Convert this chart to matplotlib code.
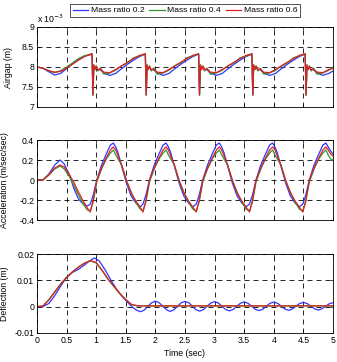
import matplotlib
matplotlib.use("Agg")
import matplotlib.pyplot as plt

plt.rcParams['font.family'] = ['Liberation Sans', 'DejaVu Sans']
plt.rcParams['font.size'] = 6.3

series_labels = ["Mass ratio 0.2", "Mass ratio 0.4", "Mass ratio 0.6"]
series_colors = ["#3333ff", "#2e9a2e", "#e02020"]

# ---------------- Airgap (units of 1e-3 m) ----------------
t_air = [0.00, 0.10, 0.20, 0.30, 0.40, 0.50, 0.60, 0.70, 0.80,
         0.93, 0.945, 0.96, 0.98, 1.00, 1.03, 1.07, 1.13, 1.23, 1.33, 1.43, 1.53, 1.63, 1.73,
         1.83, 1.845, 1.86, 1.88, 1.90, 1.93, 1.97, 2.03, 2.13, 2.23, 2.33, 2.43, 2.53, 2.63,
         2.73, 2.745, 2.76, 2.78, 2.80, 2.83, 2.87, 2.93, 3.03, 3.13, 3.23, 3.33, 3.43, 3.53,
         3.63, 3.645, 3.66, 3.68, 3.70, 3.73, 3.77, 3.83, 3.93, 4.03, 4.13, 4.23, 4.33, 4.43,
         4.53, 4.545, 4.56, 4.58, 4.60, 4.63, 4.67, 4.73, 4.83, 4.93, 5.00]

air_02 = [8.00, 7.97, 7.88, 7.80, 7.84, 7.96, 8.08, 8.18, 8.27,
          8.32, 7.30, 8.02, 7.97, 7.99, 7.94, 7.93, 7.85, 7.79, 7.84, 7.96, 8.07, 8.17, 8.26,
          8.32, 7.30, 8.02, 7.97, 7.99, 7.94, 7.93, 7.85, 7.79, 7.84, 7.96, 8.07, 8.17, 8.26,
          8.32, 7.30, 8.02, 7.97, 7.99, 7.94, 7.93, 7.85, 7.79, 7.84, 7.96, 8.07, 8.17, 8.26,
          8.32, 7.30, 8.02, 7.97, 7.99, 7.94, 7.93, 7.85, 7.79, 7.84, 7.96, 8.07, 8.17, 8.26,
          8.32, 7.30, 8.02, 7.97, 7.99, 7.94, 7.93, 7.85, 7.79, 7.84, 7.90]

air_04 = [8.00, 7.97, 7.90, 7.86, 7.91, 8.00, 8.10, 8.21, 8.28,
          8.33, 7.30, 8.06, 7.93, 8.03, 7.90, 7.97, 7.82, 7.85, 7.92, 8.03, 8.10, 8.23, 8.27,
          8.33, 7.30, 8.06, 7.93, 8.03, 7.90, 7.97, 7.82, 7.85, 7.92, 8.03, 8.10, 8.23, 8.27,
          8.33, 7.30, 8.06, 7.93, 8.03, 7.90, 7.97, 7.82, 7.85, 7.92, 8.03, 8.10, 8.23, 8.27,
          8.33, 7.30, 8.06, 7.93, 8.03, 7.90, 7.97, 7.82, 7.85, 7.92, 8.03, 8.10, 8.23, 8.27,
          8.33, 7.30, 8.06, 7.93, 8.03, 7.90, 7.97, 7.82, 7.85, 7.92, 8.00]

air_06 = [8.00, 7.97, 7.91, 7.87, 7.89, 7.97, 8.07, 8.17, 8.26,
          8.33, 7.30, 8.05, 7.94, 8.02, 7.92, 7.96, 7.87, 7.86, 7.94, 8.03, 8.12, 8.21, 8.29,
          8.33, 7.30, 8.05, 7.94, 8.02, 7.92, 7.96, 7.87, 7.86, 7.94, 8.03, 8.12, 8.21, 8.29,
          8.33, 7.30, 8.05, 7.94, 8.02, 7.92, 7.96, 7.87, 7.86, 7.94, 8.03, 8.12, 8.21, 8.29,
          8.33, 7.30, 8.05, 7.94, 8.02, 7.92, 7.96, 7.87, 7.86, 7.94, 8.03, 8.12, 8.21, 8.29,
          8.33, 7.30, 8.05, 7.94, 8.02, 7.92, 7.96, 7.87, 7.86, 7.94, 7.96]

# ---------------- Acceleration (m/sec/sec) ----------------
t_acc = [0.00, 0.10, 0.20, 0.30, 0.39, 0.46, 0.55, 0.62, 0.70, 0.78, 0.85,
         0.90, 0.95, 1.01, 1.09, 1.17, 1.24, 1.29, 1.33, 1.37, 1.43, 1.51, 1.59, 1.67, 1.74,
         1.79, 1.84, 1.90, 1.98, 2.06, 2.13, 2.18, 2.22, 2.26, 2.32, 2.40, 2.48, 2.56, 2.63,
         2.69, 2.74, 2.80, 2.88, 2.96, 3.03, 3.08, 3.12, 3.16, 3.22, 3.30, 3.38, 3.46, 3.53,
         3.59, 3.64, 3.70, 3.78, 3.86, 3.93, 3.98, 4.02, 4.06, 4.12, 4.20, 4.28, 4.36, 4.43,
         4.49, 4.54, 4.60, 4.68, 4.76, 4.83, 4.88, 4.92, 4.96, 5.00]

acc_02 = [0.00, 0.00, 0.06, 0.15, 0.20, 0.16, 0.05, -0.08, -0.19, -0.24, -0.26,
          -0.24, -0.15, 0.00, 0.15, 0.26, 0.35, 0.37, 0.33, 0.27, 0.14, -0.03, -0.16, -0.23, -0.27,
          -0.24, -0.15, 0.00, 0.15, 0.26, 0.35, 0.37, 0.33, 0.27, 0.14, -0.03, -0.16, -0.23, -0.27,
          -0.24, -0.15, 0.00, 0.15, 0.26, 0.35, 0.37, 0.33, 0.27, 0.14, -0.03, -0.16, -0.23, -0.27,
          -0.24, -0.15, 0.00, 0.15, 0.26, 0.35, 0.37, 0.33, 0.27, 0.14, -0.03, -0.16, -0.23, -0.27,
          -0.24, -0.15, 0.00, 0.15, 0.26, 0.35, 0.37, 0.33, 0.29, 0.26]

acc_04 = [0.00, 0.00, 0.05, 0.11, 0.14, 0.11, 0.03, -0.05, -0.15, -0.24, -0.30,
          -0.31, -0.22, -0.02, 0.11, 0.21, 0.27, 0.30, 0.25, 0.21, 0.15, -0.01, -0.12, -0.22, -0.29,
          -0.31, -0.22, -0.02, 0.11, 0.21, 0.27, 0.30, 0.25, 0.21, 0.15, -0.01, -0.12, -0.22, -0.29,
          -0.31, -0.22, -0.02, 0.11, 0.21, 0.27, 0.30, 0.25, 0.21, 0.15, -0.01, -0.12, -0.22, -0.29,
          -0.31, -0.22, -0.02, 0.11, 0.21, 0.27, 0.30, 0.25, 0.21, 0.15, -0.01, -0.12, -0.22, -0.29,
          -0.31, -0.22, -0.02, 0.11, 0.21, 0.27, 0.30, 0.25, 0.21, 0.20]

acc_06 = [0.00, 0.00, 0.05, 0.12, 0.15, 0.13, 0.05, -0.02, -0.12, -0.21, -0.28,
          -0.32, -0.20, 0.00, 0.12, 0.22, 0.30, 0.33, 0.30, 0.24, 0.15, 0.00, -0.13, -0.21, -0.27,
          -0.32, -0.20, 0.00, 0.12, 0.22, 0.30, 0.33, 0.30, 0.24, 0.15, 0.00, -0.13, -0.21, -0.27,
          -0.32, -0.20, 0.00, 0.12, 0.22, 0.30, 0.33, 0.30, 0.24, 0.15, 0.00, -0.13, -0.21, -0.27,
          -0.32, -0.20, 0.00, 0.12, 0.22, 0.30, 0.33, 0.30, 0.24, 0.15, 0.00, -0.13, -0.21, -0.27,
          -0.32, -0.20, 0.00, 0.12, 0.22, 0.30, 0.33, 0.30, 0.26, 0.24]

# ---------------- Deflection (m) ----------------
t_def_02 = [0.00, 0.10, 0.20, 0.30, 0.40, 0.50, 0.60, 0.70, 0.80, 0.90, 0.97,
            1.05, 1.15, 1.25, 1.35, 1.45, 1.55, 1.625, 1.6875,
            1.75, 1.8125, 1.875, 1.9375, 2.00, 2.0625, 2.125, 2.1875,
            2.25, 2.3125, 2.375, 2.4375, 2.50, 2.5625, 2.625, 2.6875,
            2.75, 2.8125, 2.875, 2.9375, 3.00, 3.0625, 3.125, 3.1875,
            3.25, 3.3125, 3.375, 3.4375, 3.50, 3.5625, 3.625, 3.6875,
            3.75, 3.8125, 3.875, 3.9375, 4.00, 4.0625, 4.125, 4.1875,
            4.25, 4.3125, 4.375, 4.4375, 4.50, 4.5625, 4.625, 4.6875,
            4.75, 4.8125, 4.875, 4.9375, 5.00]
def_02 = [0.0, 0.0, 0.0012, 0.0042, 0.0078, 0.0112, 0.0130, 0.0142, 0.0158, 0.0176, 0.0185,
          0.0174, 0.0140, 0.0100, 0.0064, 0.0036, 0.0012, -0.0004, -0.0014,
          -0.0019, -0.0013, 0.0002, 0.0015, 0.0021, 0.0015, 0.0002, -0.0012,
          -0.0018, -0.0012, 0.0002, 0.0015, 0.0020, 0.0015, 0.0002, -0.0012,
          -0.0017, -0.0011, 0.0002, 0.0014, 0.0019, 0.0014, 0.0002, -0.0011,
          -0.0016, -0.0011, 0.0002, 0.0013, 0.0018, 0.0013, 0.0002, -0.0010,
          -0.0015, -0.0010, 0.0002, 0.0013, 0.0017, 0.0013, 0.0002, -0.0009,
          -0.0014, -0.0009, 0.0002, 0.0012, 0.0016, 0.0012, 0.0002, -0.0008,
          -0.0013, -0.0008, 0.0002, 0.0011, 0.0015]

t_def = [0.00, 0.10, 0.20, 0.30, 0.40, 0.50, 0.60, 0.70, 0.80, 0.90, 1.00,
         1.10, 1.20, 1.30, 1.40, 1.50, 1.60, 1.70, 1.80, 2.50, 3.50, 5.00]
def_04 = [0.0, 0.0003, 0.0027, 0.0057, 0.0087, 0.0112, 0.0133, 0.0151, 0.0165, 0.0174, 0.0166,
          0.0137, 0.0104, 0.0076, 0.0049, 0.0026, 0.0008, 0.0003, 0.0003, 0.0003, 0.0003, 0.0003]
def_06 = [0.0, 0.0002, 0.0025, 0.0055, 0.0085, 0.0110, 0.0132, 0.0150, 0.0165, 0.0175, 0.0168,
          0.0138, 0.0105, 0.0077, 0.0050, 0.0027, 0.0008, 0.0003, 0.0003, 0.0003, 0.0003, 0.0003]

x_ticks = [0, 0.5, 1, 1.5, 2, 2.5, 3, 3.5, 4, 4.5, 5]
x_ticklabels = ["0", "0.5", "1", "1.5", "2", "2.5", "3", "3.5", "4", "4.5", "5"]
air_ticks = [7, 7.5, 8, 8.5, 9]
air_ticklabels = ["7", "7.5", "8", "8.5", "9"]
acc_ticks = [-0.4, -0.2, 0, 0.2, 0.4]
acc_ticklabels = ["-0.4", "-0.2", "0", "0.2", "0.4"]
def_ticks = [-0.01, 0, 0.01, 0.02]
def_ticklabels = ["-0.01", "0", "0.01", "0.02"]

W, H = 337, 362
fig = plt.figure(figsize=(W / 100, H / 100), dpi=100)

def axes_px(left, top, right, bottom):
    return fig.add_axes([left / W, 1 - bottom / H, (right - left) / W, (bottom - top) / H])

ax1 = axes_px(37, 27, 333, 107)
ax2 = axes_px(37, 140, 333, 220)
ax3 = axes_px(37, 254, 333, 333)

lw = 0.9
lines = []
for ys, c, lab in zip([air_02, air_04, air_06], series_colors, series_labels):
    l, = ax1.plot(t_air, ys, color=c, lw=lw, label=lab)
    lines.append(l)
for ys, c in zip([acc_02, acc_04, acc_06], series_colors):
    ax2.plot(t_acc, ys, color=c, lw=lw)
ax3.plot(t_def_02, def_02, color=series_colors[0], lw=lw)
ax3.plot(t_def, def_04, color=series_colors[1], lw=lw)
ax3.plot(t_def, def_06, color=series_colors[2], lw=lw)

for ax, yt, ytl, ylim in [(ax1, air_ticks, air_ticklabels, (7, 9)),
                          (ax2, acc_ticks, acc_ticklabels, (-0.4, 0.4)),
                          (ax3, def_ticks, def_ticklabels, (-0.01, 0.02))]:
    ax.set_xlim(0, 5)
    ax.set_ylim(*ylim)
    ax.set_xticks(x_ticks)
    ax.set_yticks(yt)
    ax.set_yticklabels(ytl)
    ax.grid(True, color='black', linestyle=(0, (6, 4.8)), linewidth=0.6)
    ax.tick_params(direction='in', length=2.5, width=0.5, labelsize=6.3, pad=2,
                   top=True, right=True)
    for s in ax.spines.values():
        s.set_linewidth(0.6)
        s.set_color('black')

ax1.set_xticklabels([])
ax2.set_xticklabels([])
ax3.set_xticklabels(x_ticklabels)

ax1.set_ylabel("Airgap (m)", fontsize=6.3)
ax2.set_ylabel("Acceleration (m/sec/sec)", fontsize=6.3)
ax3.set_ylabel("Deflection (m)", fontsize=6.3)
ax1.yaxis.set_label_coords(-0.082, 0.5)
ax2.yaxis.set_label_coords(-0.095, 0.5)
ax3.yaxis.set_label_coords(-0.095, 0.5)
ax3.set_xlabel("Time (sec)", fontsize=6.3, labelpad=3)

ax1.text(0.0, 1.02, "x 10$^{-3}$", transform=ax1.transAxes, fontsize=6.3,
         ha='left', va='bottom')

leg = fig.legend(handles=lines, labels=series_labels, loc='upper left',
                 bbox_to_anchor=(70 / W, 1 - 4 / H), ncol=3, fontsize=6.1,
                 frameon=True, fancybox=False, edgecolor='black',
                 handlelength=1.85, columnspacing=0.55, handletextpad=0.3,
                 borderpad=0.3, borderaxespad=0)
leg.get_frame().set_linewidth(0.6)

fig.savefig("out.png", dpi=100)
